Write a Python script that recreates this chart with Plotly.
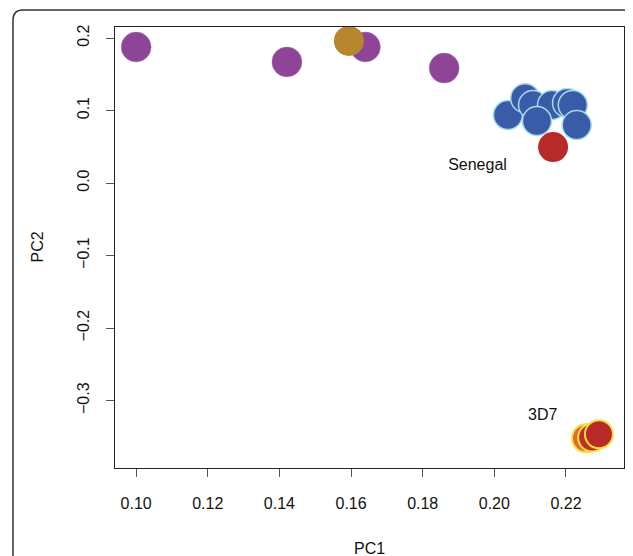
import plotly.graph_objects as go

# Data
purple_pc1 = [0.1000, 0.1421, 0.1640, 0.1860]
purple_pc2 = [0.1876, 0.1670, 0.1876, 0.1586]

orange_pc1 = [0.1594]
orange_pc2 = [0.1960]

blue_pc1 = [0.2038, 0.2086, 0.2108, 0.2161, 0.2203, 0.2219, 0.2119, 0.2230]
blue_pc2 = [0.0938, 0.1170, 0.1076, 0.1076, 0.1103, 0.1076, 0.0855, 0.0800]

senegal_pc1 = [0.2164]
senegal_pc2 = [0.0496]

d3d7_pc1 = [0.2256, 0.2273, 0.2292]
d3d7_pc2 = [-0.3520, -0.3510, -0.3465]

labels = ["Senegal", "3D7"]
label_pc1 = [0.1953, 0.2135]
label_pc2 = [0.0240, -0.3215]

x_ticks = [0.10, 0.12, 0.14, 0.16, 0.18, 0.20, 0.22]
y_ticks = [-0.3, -0.2, -0.1, 0.0, 0.1, 0.2]

FONT = "Liberation Sans, Arial, Helvetica, sans-serif"
FS = 16

fig = go.Figure()

fig.add_trace(go.Scatter(x=purple_pc1, y=purple_pc2, mode="markers",
                         marker=dict(size=30, color="#8E4497", line=dict(width=0.5, color="#B07CB5"))))
fig.add_trace(go.Scatter(x=orange_pc1, y=orange_pc2, mode="markers",
                         marker=dict(size=30, color="#B8862C", line=dict(width=0))))
fig.add_trace(go.Scatter(x=blue_pc1, y=blue_pc2, mode="markers",
                         marker=dict(size=29, color="#3A5BA7", line=dict(width=1.5, color="#A6DCEB"))))
fig.add_trace(go.Scatter(x=senegal_pc1, y=senegal_pc2, mode="markers",
                         marker=dict(size=30, color="#B82A2A", line=dict(width=0))))
fig.add_trace(go.Scatter(x=d3d7_pc1, y=d3d7_pc2, mode="markers",
                         marker=dict(size=28, color=["#E06A35", "#C0302A", "#B82A2A"],
                                     line=dict(width=2, color="#F2E13A"))))
fig.add_trace(go.Scatter(x=label_pc1, y=label_pc2, mode="text", text=labels,
                         textfont=dict(family=FONT, size=FS, color="#111111"),
                         textposition="middle center"))

OFF = 8  # page body margin
W, H = 633 - OFF, 556 - OFF
L, T = 115 - OFF, 27 - OFF
R = W - (624 - OFF)
B = H - (468 - OFF)
pw, ph = W - L - R, H - T - B


def px(x):
    return (x - OFF - L) / pw


def py(y):
    return 1 - (y - OFF - T) / ph


# rounded outer frame
x0, x1 = px(13), px(632)
y0, y1 = py(10), py(580)
rx, ry = 10 / pw, 10 / ph
path = (f"M {x0},{y1} L {x0},{y0 - ry} Q {x0},{y0} {x0 + rx},{y0} "
        f"L {x1 - rx},{y0} Q {x1},{y0} {x1},{y0 - ry} L {x1},{y1}")

fig.update_layout(
    width=W, height=H,
    margin=dict(l=L, r=R, t=T, b=B, pad=0),
    paper_bgcolor="white", plot_bgcolor="white",
    showlegend=False,
    font=dict(family=FONT, size=FS, color="#111111"),
    shapes=[dict(type="path", path=path, xref="paper", yref="paper",
                 line=dict(color="#333333", width=1.5))],
    annotations=[
        dict(text="PC1", x=0.5, y=py(548), xref="paper", yref="paper",
             showarrow=False, font=dict(size=FS), xanchor="center", yanchor="middle"),
        dict(text="PC2", x=px(37), y=0.5, xref="paper", yref="paper", textangle=-90,
             showarrow=False, font=dict(size=FS), xanchor="center", yanchor="middle"),
    ],
)

fig.update_xaxes(range=[0.0941, 0.2362], tickvals=x_ticks,
                 ticktext=[f"{v:.2f}" for v in x_ticks],
                 showgrid=False, zeroline=False, showline=True, mirror=True,
                 linecolor="#222222", linewidth=1, ticks="outside", ticklen=8,
                 tickcolor="#555555", ticklabelstandoff=13)
fig.update_yaxes(range=[-0.393, 0.2152], tickvals=y_ticks,
                 ticktext=["\u22120.3", "\u22120.2", "\u22120.1", "0.0", "0.1", "0.2"],
                 tickangle=-90,
                 showgrid=False, zeroline=False, showline=True, mirror=True,
                 linecolor="#222222", linewidth=1, ticks="outside", ticklen=8,
                 tickcolor="#555555", ticklabelstandoff=11)

fig.write_html("out.html")
